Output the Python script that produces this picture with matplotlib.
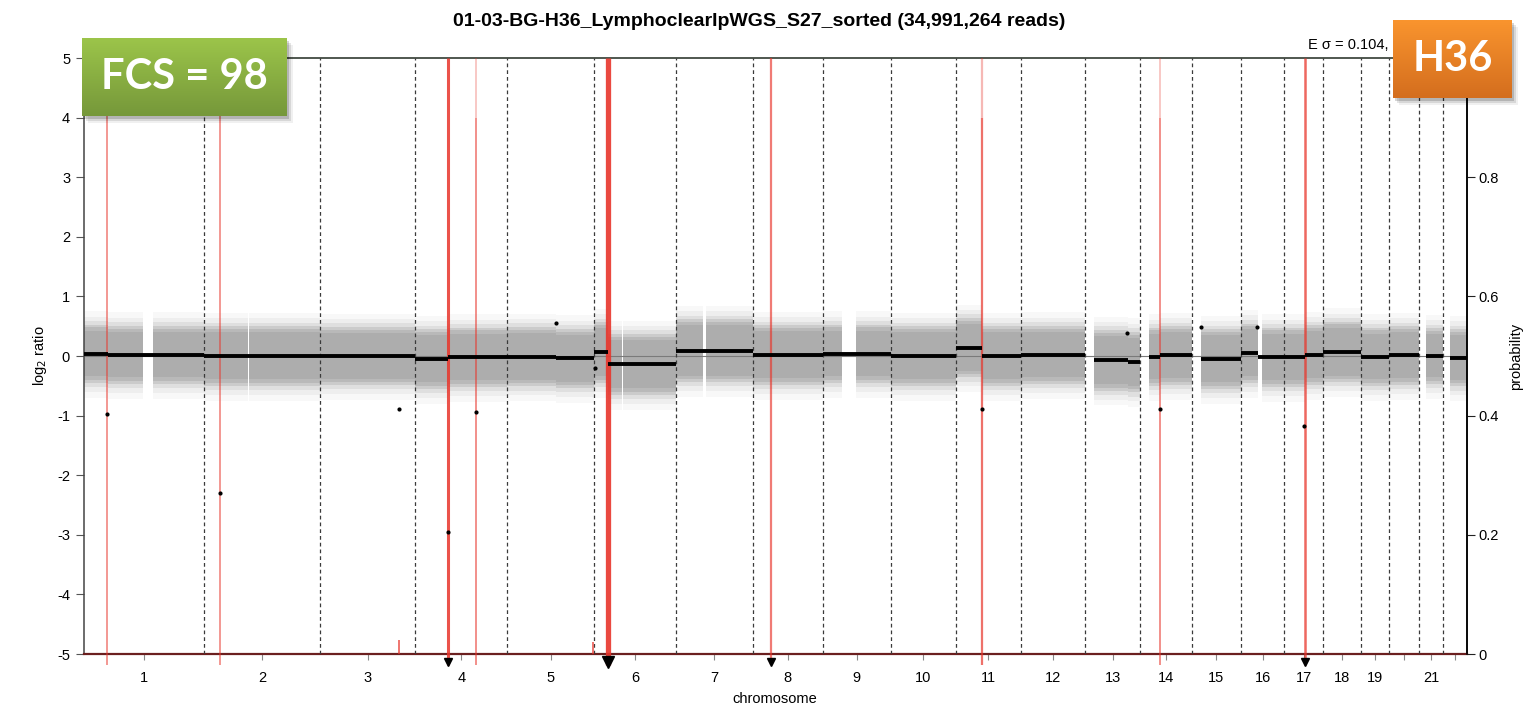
import numpy as np
import matplotlib
matplotlib.use("Agg")
import matplotlib.pyplot as plt
from matplotlib.patches import Rectangle

plt.rcParams['font.family'] = ['Liberation Sans', 'DejaVu Sans']
plt.rcParams['axes.unicode_minus'] = False

W, H = 1532, 709

# --- GENOME LAYOUT (Mb) ---
chrom_len_mb = [249, 243, 198, 191, 181, 171, 159, 146, 141, 136, 135,
                134, 115, 107, 103, 90, 81, 78, 59, 63, 48, 51]
tick_labels = ['1', '2', '3', '4', '5', '6', '7', '8', '9', '10', '11',
               '12', '13', '14', '15', '16', '17', '18', '19', '', '21', '']

# stretches with bin coverage per chromosome (Mb)
data_spans = {
    1: [(0, 122), (143, 249)], 2: [(0, 92), (95, 243)], 3: [(0, 198)],
    4: [(0, 191)], 5: [(0, 181)], 6: [(0, 58), (61, 171)],
    7: [(0, 56), (61, 159)], 8: [(0, 146)], 9: [(0, 40), (69, 141)],
    10: [(0, 136)], 11: [(0, 135)], 12: [(0, 134)], 13: [(19, 115)],
    14: [(18, 107)], 15: [(20, 103)], 16: [(0, 34), (44, 90)],
    17: [(0, 81)], 18: [(0, 78)], 19: [(0, 59)], 20: [(0, 63)],
    21: [(14, 48)], 22: [(16, 51)],
}

# spread of the bin cloud per chromosome (log2)
cloud_spread = [0.44, 0.45, 0.44, 0.45, 0.45, 0.46, 0.48, 0.45, 0.44, 0.45, 0.45,
                0.44, 0.46, 0.44, 0.45, 0.45, 0.45, 0.46, 0.44, 0.44, 0.42, 0.43]

# --- SEGMENTS ---
seg_chrom = [1, 1, 2, 3, 4, 4, 5, 5, 6, 6, 7, 8, 9, 10, 11, 11, 12,
             13, 13, 14, 14, 15, 16, 16, 17, 17, 18, 19, 20, 21, 22]
seg_start = [0, 50, 0, 0, 0, 68, 0, 101, 0, 29, 0, 0, 0, 0, 0, 54, 0,
             19, 90, 18, 41, 20, 0, 35, 0, 43, 0, 0, 0, 14, 16]
seg_end = [50, 249, 243, 198, 68, 191, 101, 181, 29, 171, 159, 146, 141, 136, 54, 135, 134,
           90, 115, 41, 107, 103, 35, 90, 43, 81, 78, 59, 63, 48, 51]
seg_value = [0.04, 0.02, 0.00, 0.00, -0.05, -0.02, -0.01, -0.04, 0.06, -0.14, 0.09, 0.02,
             0.04, 0.00, 0.14, 0.00, 0.02, -0.07, -0.10, -0.01, 0.01, -0.05, 0.05, -0.02,
             -0.02, 0.02, 0.07, -0.01, 0.01, 0.00, -0.03]

# --- CALLED EVENTS (red lines) ---
red_chrom = [1, 2, 4, 4, 6, 8, 11, 14, 17]
red_pos = [48, 34, 68, 126, 29, 38, 54, 41, 43]
red_width = [1.3, 1.3, 2.2, 1.4, 3.8, 1.6, 1.6, 1.4, 1.8]
red_alpha = [0.55, 0.55, 0.85, 0.55, 0.9, 0.65, 0.7, 0.55, 0.75]
red_faded_top = [False, False, False, True, False, False, True, True, False]

# short probability marks at the bottom
tick_chrom = [3, 5]
tick_pos = [164, 179]
tick_prob = [0.023, 0.02]

# --- OUTLIER BINS ---
out_chrom = [1, 2, 3, 4, 4, 5, 6, 11, 13, 14, 15, 16, 17]
out_pos = [48, 34, 164, 68, 126, 101, 2, 54, 87, 40, 19, 33, 41]
out_value = [-0.97, -2.30, -0.89, -2.95, -0.94, 0.55, -0.20, -0.89, 0.39, -0.89, 0.49, 0.49, -1.18]

# values below the plotted range
arrow_chrom = [4, 6, 8, 17]
arrow_pos = [68, 29, 38, 43]
arrow_size = [6, 8, 6, 6]

title = "01-03-BG-H36_LymphoclearIpWGS_S27_sorted (34,991,264 reads)"

offsets = np.concatenate([[0], np.cumsum(chrom_len_mb)[:-1]])
total = float(sum(chrom_len_mb))
centers = offsets + np.array(chrom_len_mb) / 2.0


def gpos(c, p):
    return offsets[c - 1] + p


def fig_box(x0, y0, x1, y1):
    # pixel box (top-left origin) -> figure fraction rect
    return [x0 / W, 1 - y1 / H, (x1 - x0) / W, (y1 - y0) / H]


fig = plt.figure(figsize=(W / 100, H / 100), dpi=100)
ax = fig.add_axes(fig_box(84, 58, 1467, 654))
ax.set_xlim(0, total)
ax.set_ylim(-5, 5)

# --- BIN CLOUD ---
# stacked translucent bands so the cloud thins out towards its edges
grey = '#adadad'
cloud_layers = [(0.30, 0.08), (0.20, 0.12), (0.12, 0.22), (0.05, 0.4), (0.0, 0.6), (-0.06, 1.0)]
for c, s, e, v in zip(seg_chrom, seg_start, seg_end, seg_value):
    sp = cloud_spread[c - 1]
    for a, b in data_spans[c]:
        lo, hi = max(s, a), min(e, b)
        if hi <= lo:
            continue
        xs = [gpos(c, lo), gpos(c, hi)]
        for extra, al in cloud_layers:
            ax.fill_between(xs, v - sp - extra, v + sp + extra * 0.9,
                            color=grey, alpha=al, lw=0, zorder=1)

ax.axhline(0, color='#7a7a7a', lw=0.8, zorder=2)

# --- CHROMOSOME BOUNDARIES ---
ax.vlines(offsets[1:], -5, 5, colors='#3a3a3a', linestyles=(0, (3, 2.4)), lw=0.9, zorder=3)

# --- SEGMENTS ---
for c, s, e, v in zip(seg_chrom, seg_start, seg_end, seg_value):
    ax.hlines(v, gpos(c, s), gpos(c, e), colors='black', lw=2.8, zorder=5)

# --- RED EVENT LINES ---
for c, p, lw, al, faded in zip(red_chrom, red_pos, red_width, red_alpha, red_faded_top):
    x = gpos(c, p)
    top = 4.0 if faded else 5.0
    ax.vlines(x, -5.18, top, colors='#e8352b', lw=lw, alpha=al, zorder=4, clip_on=False)
    if faded:
        ax.vlines(x, 4.0, 5.0, colors='#e8352b', lw=lw, alpha=al * 0.5, zorder=4)

for c, p, pr in zip(tick_chrom, tick_pos, tick_prob):
    ax.vlines(gpos(c, p), -5, -5 + 10 * pr, colors='#e8352b', lw=1.2, alpha=0.8, zorder=4)

# --- OUTLIERS / ARROWS ---
ax.scatter([gpos(c, p) for c, p in zip(out_chrom, out_pos)], out_value,
           s=9, color='black', zorder=6, lw=0)
for c, p, ms in zip(arrow_chrom, arrow_pos, arrow_size):
    ax.plot(gpos(c, p), -5.14, marker='v', color='black', ms=ms, clip_on=False, zorder=7)

# --- AXES STYLE ---
ax.set_yticks(range(-5, 6))
ax.set_yticklabels([str(v) for v in range(-5, 6)])
ax.set_xticks(centers)
ax.set_xticklabels(tick_labels)
ax.tick_params(axis='y', length=6, width=0.8, color='#555555', labelsize=10.5, pad=4)
ax.tick_params(axis='x', length=4, width=0.8, color='#888888', labelsize=10.5, pad=8)
for side in ['left', 'right', 'top', 'bottom']:
    ax.spines[side].set_linewidth(1.1)
ax.spines['left'].set_color('#444444')
ax.spines['top'].set_color('#1f2a1f')
ax.spines['bottom'].set_color('#6b1f1f')
ax.spines['bottom'].set_linewidth(1.6)

ax2 = ax.twinx()
ax2.set_ylim(0, 1)
ax2.set_yticks([0, 0.2, 0.4, 0.6, 0.8])
ax2.set_yticklabels(['0', '0.2', '0.4', '0.6', '0.8'])
ax2.tick_params(axis='y', length=6, width=0.8, color='#222222', labelsize=10.5, pad=2)
ax2.spines['right'].set_color('black')
ax2.spines['right'].set_linewidth(1.1)
for side in ['left', 'top', 'bottom']:
    ax2.spines[side].set_visible(False)

fig.text(759 / W, 1 - 22 / H, title, ha='center', va='center', fontsize=14, fontweight='bold')
fig.text(1389 / W, 1 - 45 / H, "E σ = 0.104,", ha='right', va='center', fontsize=10.5)
fig.text(40 / W, 1 - 356 / H, r"log$_2$ ratio", rotation=90, ha='center', va='center', fontsize=10.5)
fig.text(1516 / W, 1 - 356 / H, "probability", rotation=90, ha='center', va='center', fontsize=10.5)
fig.text(775 / W, 1 - 699 / H, "chromosome", ha='center', va='center', fontsize=10.5)


# --- BADGES ---
def badge(x0, y0, x1, y1, top_rgb, bot_rgb, label):
    for k, al in [(6, 0.06), (4, 0.1), (2, 0.16)]:
        shadow = Rectangle(((x0 + k) / W, 1 - (y1 + k + 1) / H), (x1 - x0) / W, (y1 - y0) / H,
                           transform=fig.transFigure, color='black', alpha=al, lw=0, zorder=20)
        fig.patches.append(shadow)
    bax = fig.add_axes(fig_box(x0, y0, x1, y1), zorder=21)
    t = np.linspace(0, 1, 64)[:, None]
    top = np.array(top_rgb) / 255.0
    bot = np.array(bot_rgb) / 255.0
    grad = top[None, None, :] * (1 - t[:, :, None]) + bot[None, None, :] * t[:, :, None]
    bax.imshow(grad, aspect='auto', extent=[0, 1, 0, 1])
    bax.set_xlim(0, 1)
    bax.set_ylim(0, 1)
    bax.axis('off')
    bax.text(0.5, 0.5, label, ha='center', va='center', color='white',
             fontsize=30, fontweight='bold', family=['Lato', 'DejaVu Sans'])


badge(82, 38, 287, 116, (156, 197, 74), (118, 152, 58), "FCS = 98")
badge(1393, 20, 1512, 98, (249, 148, 46), (212, 110, 30), "H36")

fig.savefig("out.png", dpi=100)
